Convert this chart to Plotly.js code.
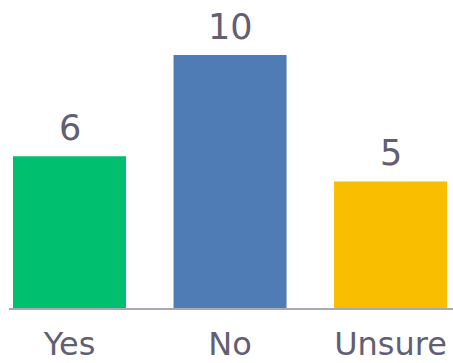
<!DOCTYPE html>
<html><head><meta charset="utf-8">
<script src="https://cdn.plot.ly/plotly-3.0.1.min.js"></script>
<style>html,body{margin:0;padding:0;background:#fff}#c{width:453px;height:363px}</style>
</head><body><div id="c"></div>
<script>
const categories = ["Yes", "No", "Unsure"];
const values = [6, 10, 5];
const colors = ["#00BF6F", "#507CB6", "#F9BE00"];
const textColor = "#625e74";

const trace = {
  type: "bar", x: categories, y: values,
  marker: {color: colors},
  hoverinfo: "none"
};
const annotations = categories.map((c, i) => ({
  x: c, y: values[i], xref: "x", yref: "y",
  text: String(values[i]), showarrow: false,
  yanchor: "bottom", yshift: 6,
  font: {family: "DejaVu Sans", size: 35, color: textColor}
}));
const layout = {
  width: 453, height: 363,
  margin: {l: 9, r: 0, t: 0, b: 55},
  paper_bgcolor: "#fff", plot_bgcolor: "#fff",
  bargap: 0.296,
  showlegend: false,
  xaxis: {
    range: [-0.377, 2.389], showline: true, linecolor: "#a9a9b3", linewidth: 1.5,
    ticks: "", ticklabelstandoff: 7,
    tickfont: {family: "DejaVu Sans", size: 32, color: textColor},
    showgrid: false, zeroline: false
  },
  yaxis: {range: [0, 12.17], visible: false, showgrid: false, zeroline: false},
  annotations: annotations
};
Plotly.newPlot("c", [trace], layout, {staticPlot: true, displayModeBar: false});
</script></body></html>
